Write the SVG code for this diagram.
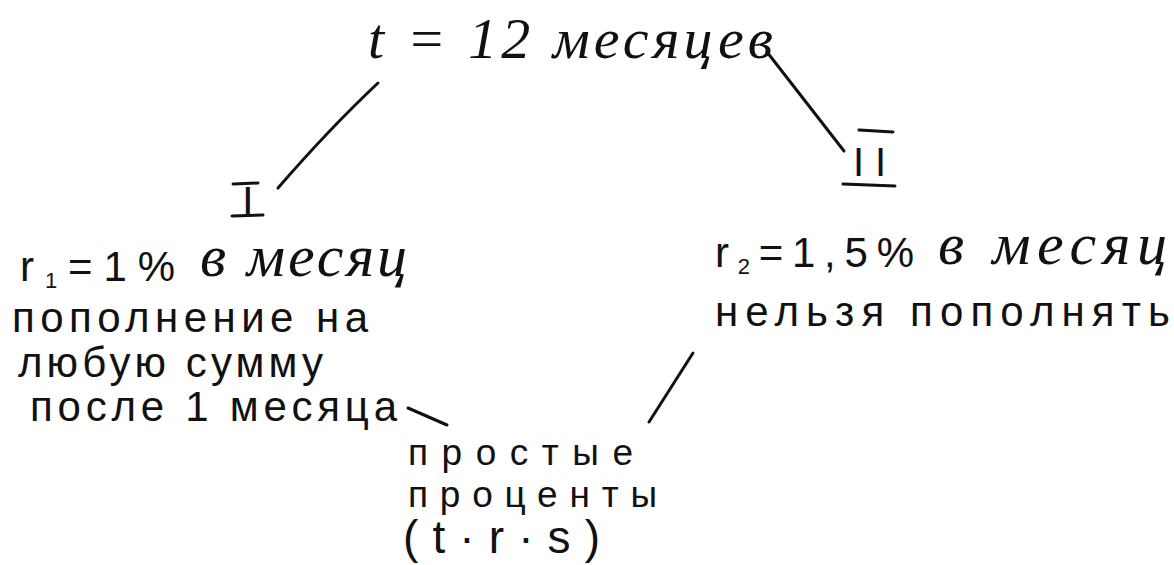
<svg xmlns="http://www.w3.org/2000/svg" width="1174" height="565" viewBox="0 0 1174 565">
<style>
.pr{font-family:"Liberation Sans","DejaVu Sans",sans-serif;fill:#111}
.cu{font-family:"Liberation Serif","DejaVu Serif",serif;font-style:italic;fill:#111}
.ln{stroke:#111;stroke-width:3;stroke-linecap:round;fill:none}
</style>
<rect width="1174" height="565" fill="#fff"/>
<g id="node-title">
<text class="cu" x="368" y="58" font-size="58" textLength="405" lengthAdjust="spacing">t = 12 месяцев</text>
</g>
<g id="node-I">
<text class="pr" x="242" y="216" font-size="42">I</text>
<path class="ln" d="M233,184 L258,183 M232,216 L263,215"/>
</g>
<g id="node-II">
<text class="pr" x="853" y="176" font-size="40" textLength="33" lengthAdjust="spacing">II</text>
<path class="ln" d="M859,130 L893,132 M843,184 L895,186"/>
</g>
<g id="node-left">
<text class="pr" x="20" y="281" font-size="42" textLength="155" lengthAdjust="spacing">r<tspan font-size="22" dy="7">1</tspan><tspan dy="-7">=1%</tspan></text>
<text class="cu" x="200" y="276" font-size="60" textLength="207" lengthAdjust="spacing">в месяц</text>
<text class="pr" x="12" y="332" font-size="42" textLength="356" lengthAdjust="spacing">пополнение на</text>
<text class="pr" x="18" y="377" font-size="42" textLength="305" lengthAdjust="spacing">любую сумму</text>
<text class="pr" x="30" y="421" font-size="42" textLength="367" lengthAdjust="spacing">после 1 месяца</text>
</g>
<g id="node-right">
<text class="pr" x="715" y="267" font-size="42" textLength="199" lengthAdjust="spacing">r<tspan font-size="22" dy="7">2</tspan><tspan dy="-7">=1,5%</tspan></text>
<text class="cu" x="938" y="264" font-size="60" textLength="229" lengthAdjust="spacing">в месяц</text>
<text class="pr" x="715" y="326" font-size="42" textLength="455" lengthAdjust="spacing">нельзя пополнять</text>
</g>
<g id="node-bottom">
<text class="pr" x="408" y="465" font-size="37" textLength="225" lengthAdjust="spacing">простые</text>
<text class="pr" x="408" y="507" font-size="37" textLength="249" lengthAdjust="spacing">проценты</text>
<text class="pr" x="403" y="553" font-size="46" textLength="197" lengthAdjust="spacing">(t·r·s)</text>
</g>
<g id="connectors">
<path class="ln" d="M378,83 Q330,128 278,188"/>
<path class="ln" d="M767,52 L844,151"/>
<path class="ln" d="M408,408 L447,425"/>
<path class="ln" d="M693,353 L649,422"/>
</g>
</svg>
